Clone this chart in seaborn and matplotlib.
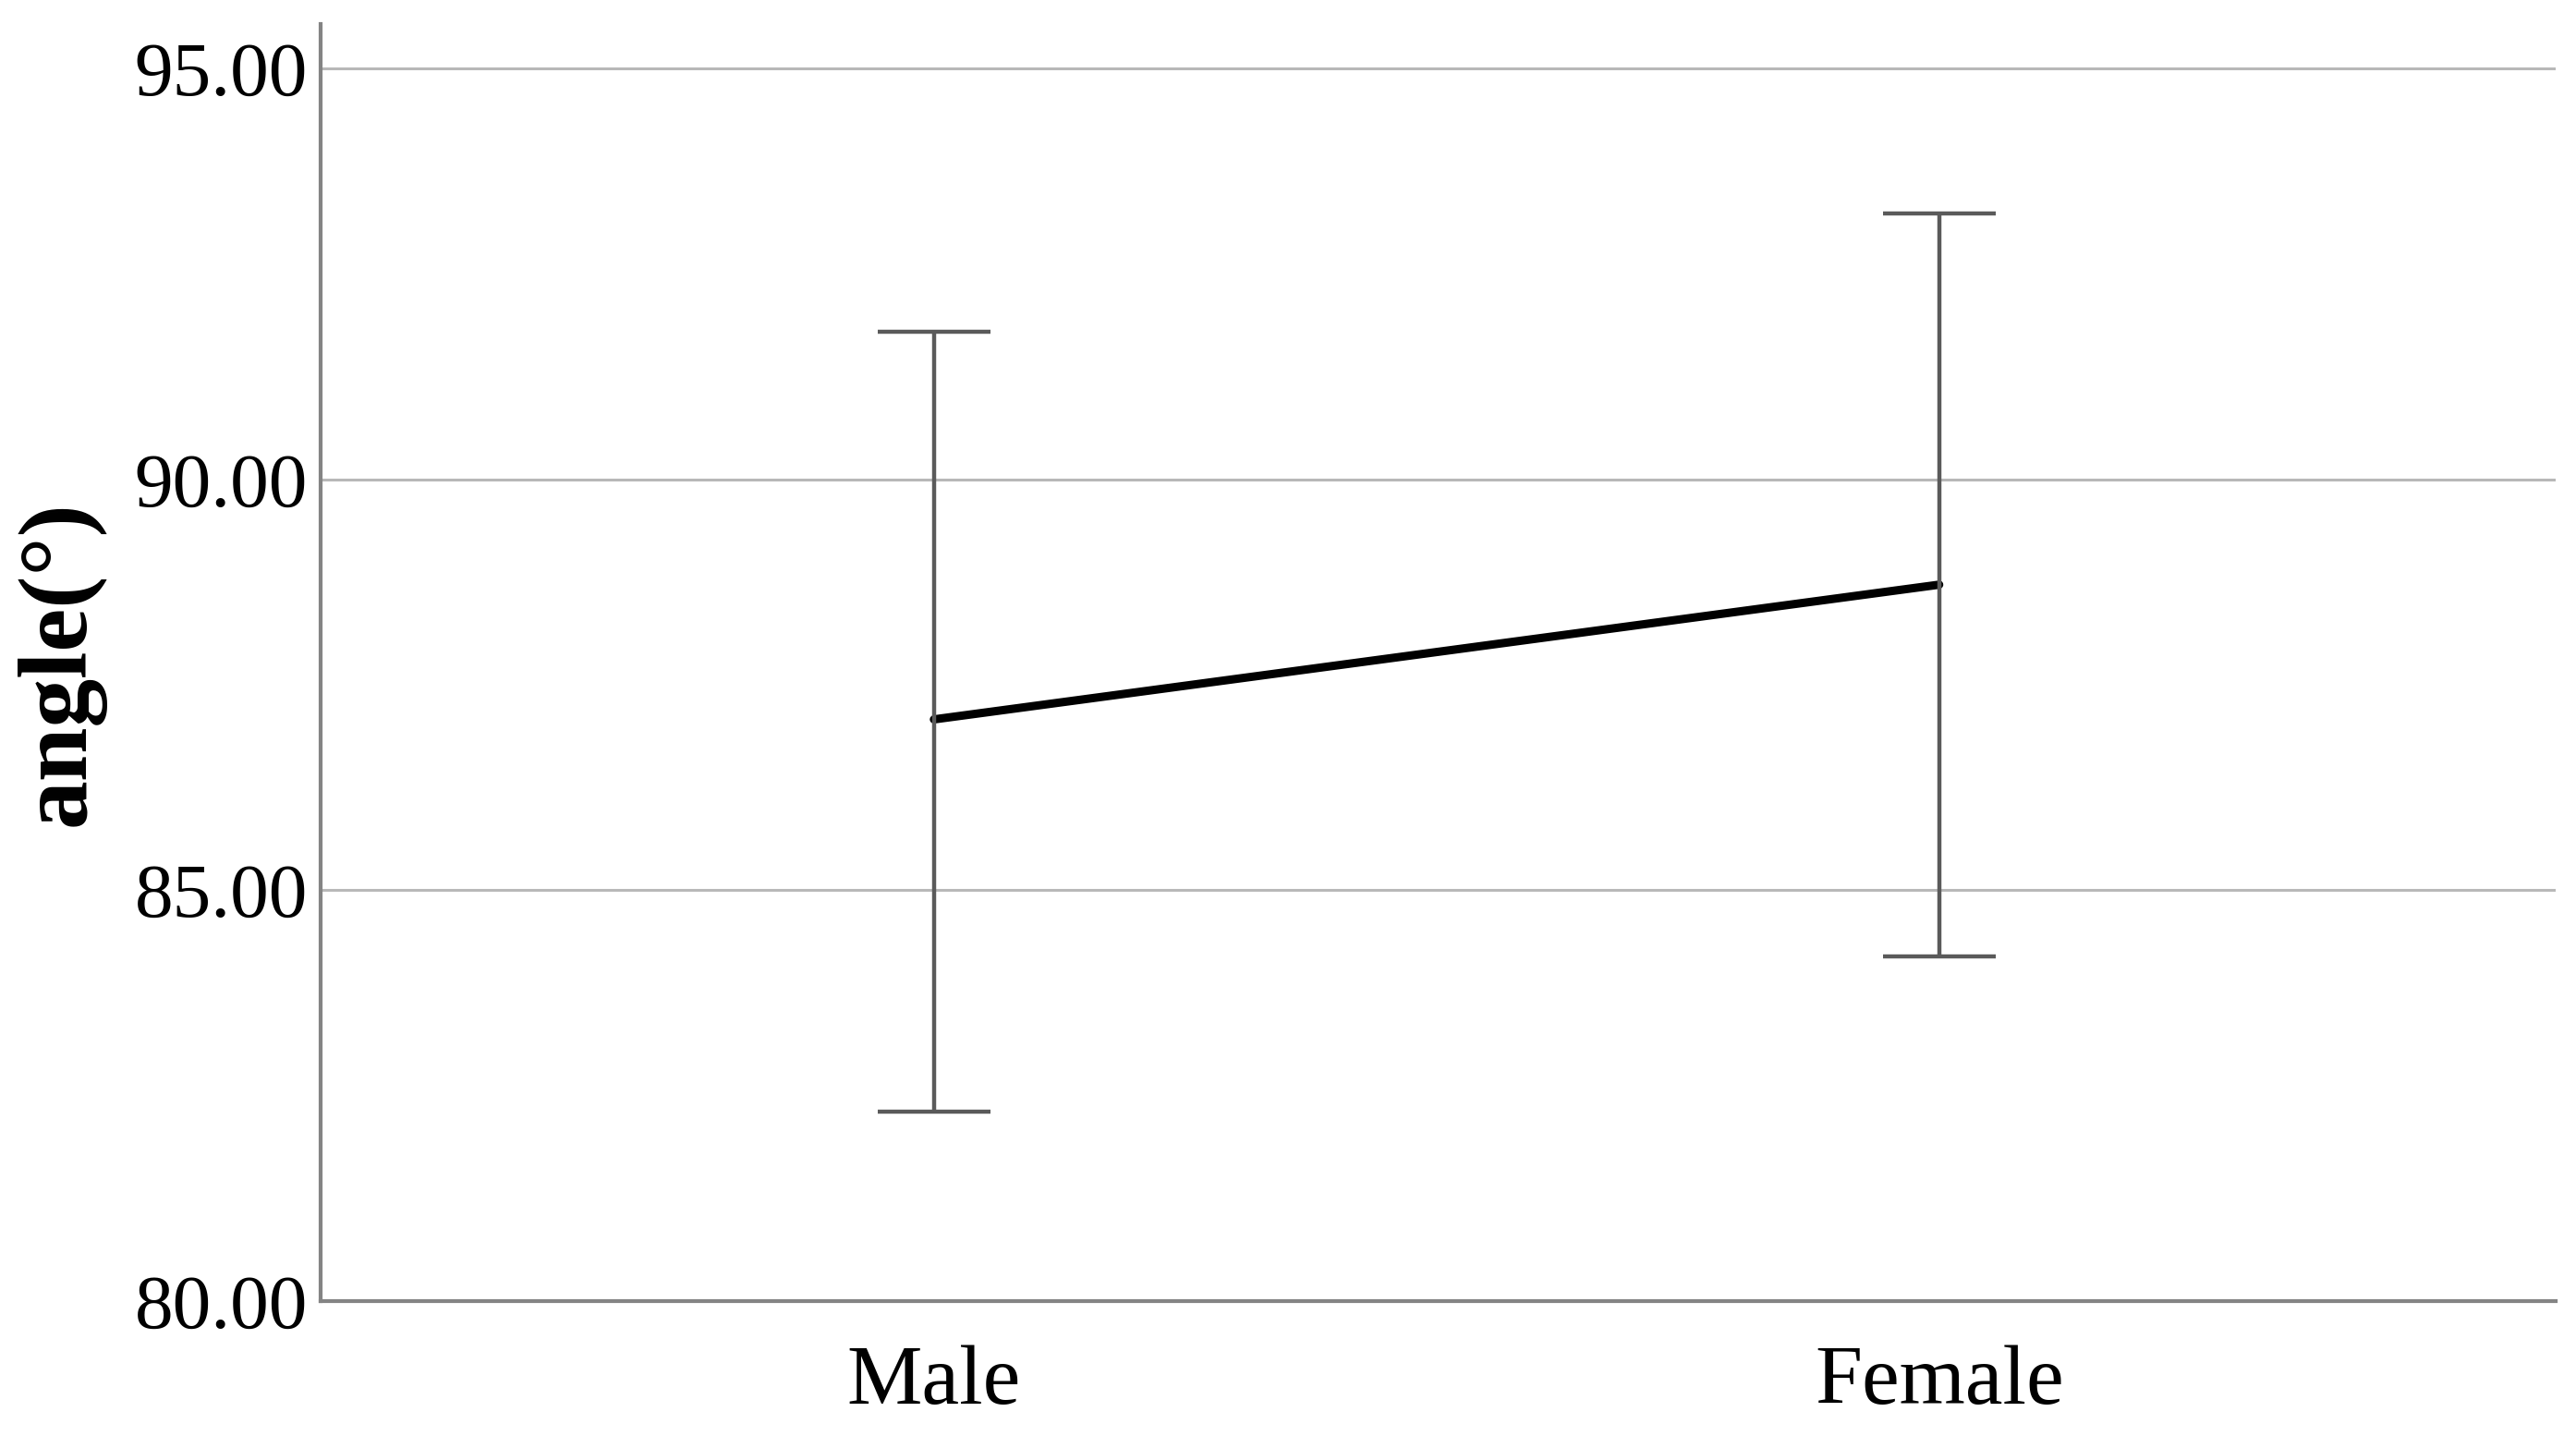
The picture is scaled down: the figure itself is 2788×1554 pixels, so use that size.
import numpy as np
import pandas as pd
import seaborn as sns
import matplotlib.pyplot as plt

# group means and 95% CI bounds
groups = ['Male', 'Female']
mean_angle = [87.08, 88.72]
ci_low = [82.30, 84.20]
ci_high = [91.80, 93.24]
y_ticks = [80, 85, 90, 95]

df = pd.DataFrame({'sex': groups, 'angle': mean_angle})

sns.set_theme(style='white')
plt.rcParams['font.family'] = ['Liberation Serif', 'DejaVu Serif']
plt.rcParams['text.color'] = 'black'
plt.rcParams['xtick.color'] = 'black'
plt.rcParams['ytick.color'] = 'black'
plt.rcParams['axes.labelcolor'] = 'black'

fig, ax = plt.subplots(figsize=(27.88, 15.54), dpi=100)
fig.subplots_adjust(left=0.1245, right=0.992, bottom=0.094, top=0.983)

for t in y_ticks[1:]:
    ax.axhline(t, color='#b8b8b8', lw=2.2, zorder=0)

sns.pointplot(data=df, x='sex', y='angle', errorbar=None, color='black',
              marker='', linewidth=6.5, ax=ax, zorder=3)

yerr = [np.array(mean_angle) - np.array(ci_low),
        np.array(ci_high) - np.array(mean_angle)]
ax.errorbar(x=[0, 1], y=mean_angle, yerr=yerr, fmt='none', ecolor='#5a5a5a',
            elinewidth=3.2, capsize=44, capthick=3.2, zorder=4)

ax.set_xlim(-0.61, 1.613)
ax.set_ylim(80, 95.54)
ax.set_yticks(y_ticks)
ax.set_yticklabels([f'{t:.2f}' for t in y_ticks])
ax.tick_params(axis='y', labelsize=60, length=0, pad=10)
ax.tick_params(axis='x', labelsize=66, length=0, pad=34)
ax.set_xlabel('')
ax.set_ylabel('angle(°)', fontsize=76, fontweight='bold', labelpad=23)

sns.despine(ax=ax)
for s in ['left', 'bottom']:
    ax.spines[s].set_color('#848484')
    ax.spines[s].set_linewidth(3)

fig.savefig('out.png', dpi=100)
